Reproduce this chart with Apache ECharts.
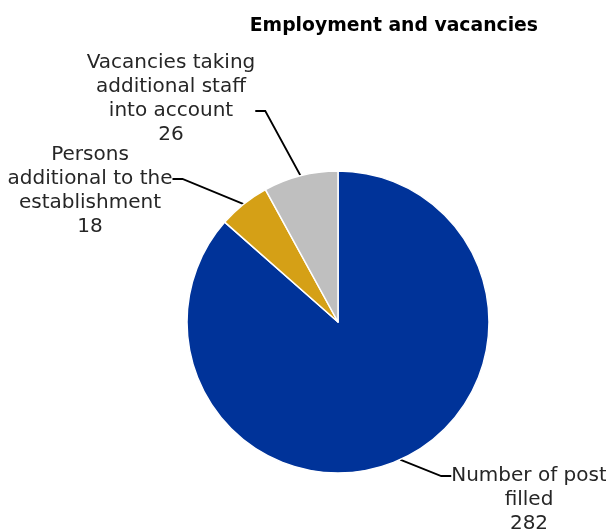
<!DOCTYPE html>
<html>
<head>
<meta charset="utf-8">
<title>Employment and vacancies</title>
<script src="https://cdn.jsdelivr.net/npm/echarts@6/dist/echarts.min.js"></script>
<style>
  html, body { margin: 0; padding: 0; background: #ffffff; }
  #chart { width: 606px; height: 531px; }
</style>
</head>
<body>
<div id="chart"></div>
<script>
// Staffing breakdown
const categories = [
  'Number of post\nfilled',
  'Persons\nadditional to the\nestablishment',
  'Vacancies taking\nadditional staff\ninto account'
];
const values = [282, 18, 26];
const colors = ['#003399', '#D5A016', '#BFBFBF'];

// Where each label block sits; blank lines above/below put the
// leader-line attachment next to the intended line of text
const labelSpots = [
  { x: 529, y: 476, before: 2, after: 0 },
  { x: 90, y: 179, before: 1, after: 0 },
  { x: 171, y: 111, before: 0, after: 1 }
];

const FONT = '"DejaVu Sans", sans-serif';

const chart = echarts.init(document.getElementById('chart'), null, { renderer: 'canvas' });

chart.setOption({
  backgroundColor: '#ffffff',
  animation: false,
  title: {
    text: 'Employment and vacancies',
    right: 63,
    top: 12,
    textStyle: { fontFamily: FONT, fontWeight: 'bold', fontSize: 18.8, color: '#000000' }
  },
  series: [{
    type: 'pie',
    center: [338, 322],
    radius: [0, 151],
    startAngle: 90,
    clockwise: true,
    avoidLabelOverlap: false,
    itemStyle: { borderColor: '#ffffff', borderWidth: 1.5 },
    label: {
      show: true,
      position: 'outside',
      fontFamily: FONT,
      fontSize: 20,
      lineHeight: 24,
      color: '#262626',
      align: 'center',
      formatter: p => {
        const s = labelSpots[p.dataIndex];
        return ' \n'.repeat(s.before) + p.name + '\n' + p.value + '\n '.repeat(s.after);
      }
    },
    labelLine: {
      show: true,
      length: 20,
      length2: 10,
      lineStyle: { color: '#000000', width: 1.8 }
    },
    labelLayout: params => {
      const s = labelSpots[params.dataIndex];
      return { x: s.x, y: s.y, align: 'center', verticalAlign: 'middle' };
    },
    data: values.map((v, i) => ({
      name: categories[i],
      value: v,
      itemStyle: { color: colors[i] }
    }))
  }]
});
</script>
</body>
</html>
